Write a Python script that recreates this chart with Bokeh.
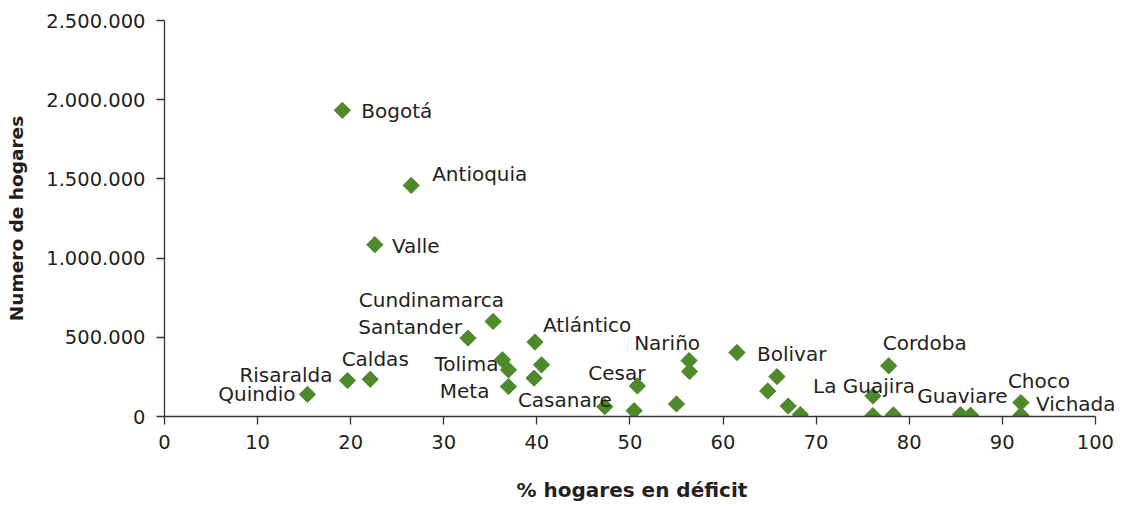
import math
from bokeh.plotting import figure
from bokeh.models import Label, CustomJSTickFormatter, FixedTicker, Range1d, Title, LinearAxis
from bokeh.embed import file_html
from bokeh.resources import INLINE

# ---- data ----
departamentos = ["Bogotá", "Antioquia", "Valle", "Cundinamarca", "Santander", "Atlántico",
                 "Tolima", "", "Meta", "", "", "Casanare", "Cesar", "", "", "Nariño", "",
                 "Bolivar", "", "", "", "", "Cordoba", "La Guajira", "", "", "Guaviare", "",
                 "Choco", "Vichada", "Caldas", "Risaralda", "Quindio"]
pct_deficit = [19.1, 26.5, 22.6, 35.3, 32.6, 39.8,
               36.3, 36.95, 36.95, 40.5, 39.7, 47.3, 50.8, 50.45, 55.0, 56.35, 56.4,
               61.5, 65.8, 64.8, 67.0, 68.3, 77.8, 76.1, 76.1, 78.3, 85.5, 86.6,
               92.0, 92.0, 22.1, 19.66, 15.36]
hogares = [1933000, 1459000, 1085000, 600000, 495000, 470000,
           358000, 294000, 189000, 326000, 242000, 62000, 193000, 37000, 79000, 353000, 284000,
           404000, 252000, 161000, 66000, 12000, 320000, 130000, 5000, 10000, 12000, 8000,
           88000, 8000, 235000, 227000, 140000]
x_ticks = [0, 10, 20, 30, 40, 50, 60, 70, 80, 90, 100]
y_ticks = [0, 500000, 1000000, 1500000, 2000000, 2500000]
x_title = "% hogares en déficit"
y_title = "Numero de hogares"

# ---- label placement (style: alignment and pixel offsets) ----
label_style = {
    "Bogotá": ("left", 19, -1), "Antioquia": ("left", 21, 11), "Valle": ("left", 17, -1),
    "Cundinamarca": ("right", 11, 21), "Santander": ("right", -6, 11),
    "Atlántico": ("left", 8, 17), "Tolima": ("right", -4, -4), "Meta": ("right", -19, -4),
    "Casanare": ("right", 7, 7), "Cesar": ("right", 8, 13), "Nariño": ("right", 11, 18),
    "Bolivar": ("left", 20, -1), "Cordoba": ("left", -6, 23), "La Guajira": ("right", 42, 10),
    "Guaviare": ("center", 2, 19), "Choco": ("left", -13, 22), "Vichada": ("left", 15, 11),
    "Caldas": ("center", 5, 20), "Risaralda": ("right", -15, 6), "Quindio": ("right", -12, 0),
}

FONT = "DejaVu Sans"
GREEN = "#4E8A2C"
TXT = "#231F20"

# frame runs to the canvas edge so the rightmost label is not cut; axis line stops at 100
p = figure(width=1120, height=504, output_backend="svg", toolbar_location=None,
           x_range=Range1d(0, 102.7), y_range=Range1d(0, 2500000),
           min_border_left=164, min_border_right=0, min_border_top=20, min_border_bottom=88)
p.outline_line_color = None
p.xgrid.visible = False
p.ygrid.visible = False
p.background_fill_color = "white"
p.border_fill_color = "white"

p.scatter(x=pct_deficit, y=hogares, marker="square", size=11.5, angle=math.pi / 4,
          fill_color=GREEN, line_color=GREEN)

for name, xv, yv in zip(departamentos, pct_deficit, hogares):
    if not name:
        continue
    align, dx, dy = label_style[name]
    p.add_layout(Label(x=xv, y=yv, text=name, x_offset=dx, y_offset=dy,
                       text_align=align, text_baseline="middle", text_font=FONT,
                       text_font_size="20px", text_color=TXT))

for ax in (p.xaxis[0], p.yaxis[0]):
    ax.axis_line_color = "#333333"
    ax.axis_line_width = 1.3
    ax.major_tick_line_color = "#333333"
    ax.major_tick_line_width = 1.3
    ax.major_tick_out = 8
    ax.major_tick_in = 0
    ax.minor_tick_line_color = None
    ax.major_label_text_font = FONT
    ax.major_label_text_font_size = "19.5px"
    ax.major_label_text_color = TXT
    ax.axis_label_text_font = FONT
    ax.axis_label_text_font_style = "bold"
    ax.axis_label_text_color = TXT

p.xaxis.bounds = (0, 100)
p.xaxis.ticker = FixedTicker(ticks=x_ticks)
p.yaxis.ticker = FixedTicker(ticks=y_ticks)
p.yaxis.formatter = CustomJSTickFormatter(
    code='return Math.round(tick).toString().replace(/\\B(?=(\\d{3})+(?!\\d))/g, ".");')
p.yaxis.axis_label = y_title
p.yaxis.axis_label_text_font_size = "18.5px"
p.xaxis.major_label_standoff = 10
p.yaxis.major_label_standoff = 11
p.yaxis.axis_label_standoff = 16

# invisible spacer (white tick on white) between tick labels and the x title
spacer = LinearAxis(ticker=FixedTicker(ticks=[50]), axis_line_color=None,
                    major_tick_line_color="white", minor_tick_line_color=None,
                    major_tick_out=22, major_tick_in=0, minor_tick_out=0, minor_tick_in=0,
                    major_label_standoff=0, major_label_text_font_size="1px",
                    major_label_text_color="white",
                    formatter=CustomJSTickFormatter(code="return ''"))
p.add_layout(spacer, "below")

# x-axis title centred under the 0-100 axis line (frame itself is a bit wider)
p.add_layout(Title(text=x_title, align="left", offset=352, standoff=4,
                   text_font=FONT, text_font_size="20px", text_font_style="bold",
                   text_color=TXT), "below")

open("out.html", "w").write(file_html(p, INLINE))
